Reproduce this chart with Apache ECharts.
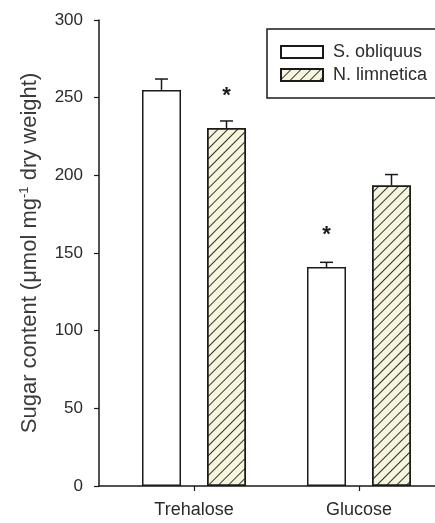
<!DOCTYPE html>
<html><head><meta charset="utf-8">
<script src="https://cdn.jsdelivr.net/npm/echarts@6/dist/echarts.min.js"></script>
<style>html,body{margin:0;padding:0;background:#fff}#c{width:435px;height:523px}</style>
</head><body><div id="c"></div>
<script>
// ---- data ----
const categories = ['Trehalose', 'Glucose'];
const seriesNames = ['S. obliquus', 'N. limnetica'];
const sObliquus = [255, 141];
const sObliquusErr = [7, 3];
const nLimnetica = [230.5, 193.5];
const nLimneticaErr = [4.5, 7];
const sObliquusSig = [false, true];
const nLimneticaSig = [true, false];
const yTicks = [0, 50, 100, 150, 200, 250, 300];

// ---- style ----
const FONT = "'Liberation Sans', Arial, sans-serif";
const INK = '#1a1a1a';
const TXT = '#2b2b2b';
const barWidth = 39;
const gapPx = 26;
const halfOff = (barWidth + gapPx) / 2;
const catPos = categories.map((c, i) => i + 1);

const chart = echarts.init(document.getElementById('c'), null, {renderer: 'canvas'});

function barData(vals, sig) {
  return vals.map((v, i) => ({value: [catPos[i], v], sig: sig[i]}));
}
function errData(vals, errs, side) {
  return vals.map((v, i) => [catPos[i], v, errs[i], side]);
}
function renderErr(params, api) {
  const x = api.value(0), m = api.value(1), e = api.value(2), side = api.value(3);
  const base = api.coord([x, m]);
  const top = api.coord([x, m + e]);
  const cx = base[0] + side * halfOff;
  const cap = 6.5;
  return {
    type: 'group',
    children: [
      {type: 'line', shape: {x1: cx, y1: base[1], x2: cx, y2: top[1]}, style: {stroke: INK, lineWidth: 1.5}},
      {type: 'line', shape: {x1: cx - cap, y1: top[1], x2: cx + cap, y2: top[1]}, style: {stroke: INK, lineWidth: 1.5}}
    ]
  };
}
const sigLabel = {
  show: true, position: 'top', distance: 21,
  formatter: p => (p.data.sig ? '*' : ''),
  fontSize: 22, fontWeight: 'bold', fontFamily: FONT, color: INK
};

chart.setOption({
  animation: false,
  backgroundColor: '#fff',
  grid: {left: 99, right: 0, top: 20, bottom: 37, containLabel: false},
  legend: {
    orient: 'vertical', left: 267, top: 29,
    padding: [14, 30, 14, 13],
    itemWidth: 42, itemHeight: 12, itemGap: 5,
    borderColor: INK, borderWidth: 1.5,
    icon: 'rect',
    textStyle: {fontSize: 18, fontFamily: FONT, color: TXT, lineHeight: 18, padding: [0, 0, 0, 5]},
    data: seriesNames
  },
  xAxis: {
    type: 'value', min: 0.4242, max: 2.4606,
    splitLine: {show: false},
    axisLine: {show: true, lineStyle: {color: INK, width: 1.5}},
    axisTick: {show: true, length: 5, customValues: catPos, lineStyle: {color: INK, width: 1.2}},
    axisLabel: {customValues: catPos, formatter: v => categories[Math.round(v) - 1] || '', fontSize: 18, fontFamily: FONT, color: TXT, margin: 15}
  },
  yAxis: {
    type: 'value', min: 0, max: 300, interval: 50,
    splitLine: {show: false},
    axisLine: {show: true, lineStyle: {color: INK, width: 1.5}},
    axisTick: {show: true, length: 5, inside: false, lineStyle: {color: INK, width: 1.2}},
    axisLabel: {fontSize: 17, fontFamily: FONT, color: TXT, margin: 16},
    name: '{a|Sugar content (μmol mg}{s|-1}{a| dry weight)}',
    nameLocation: 'middle', nameGap: 57,
    nameTextStyle: {
      rich: {
        a: {fontSize: 22, fontFamily: FONT, color: '#3a3a3a', lineHeight: 24},
        s: {fontSize: 13, fontFamily: FONT, color: '#3a3a3a', verticalAlign: 'top', lineHeight: 24}
      }
    }
  },
  series: [
    {
      name: seriesNames[0], type: 'bar', barWidth: barWidth, barGap: (gapPx / barWidth * 100) + '%',
      itemStyle: {color: '#ffffff', borderColor: INK, borderWidth: 1.5},
      label: sigLabel,
      data: barData(sObliquus, sObliquusSig)
    },
    {
      name: seriesNames[1], type: 'bar', barWidth: barWidth,
      itemStyle: {
        color: '#f7f5dc', borderColor: INK, borderWidth: 1.5,
        decal: {symbol: 'rect', symbolSize: 1, dashArrayX: [1, 0], dashArrayY: [1, 6], rotation: -Math.PI / 4, color: '#333'}
      },
      label: sigLabel,
      data: barData(nLimnetica, nLimneticaSig)
    },
    {type: 'custom', renderItem: renderErr, data: errData(sObliquus, sObliquusErr, -1), z: 5, silent: true},
    {type: 'custom', renderItem: renderErr, data: errData(nLimnetica, nLimneticaErr, 1), z: 5, silent: true}
  ]
});
</script></body></html>
